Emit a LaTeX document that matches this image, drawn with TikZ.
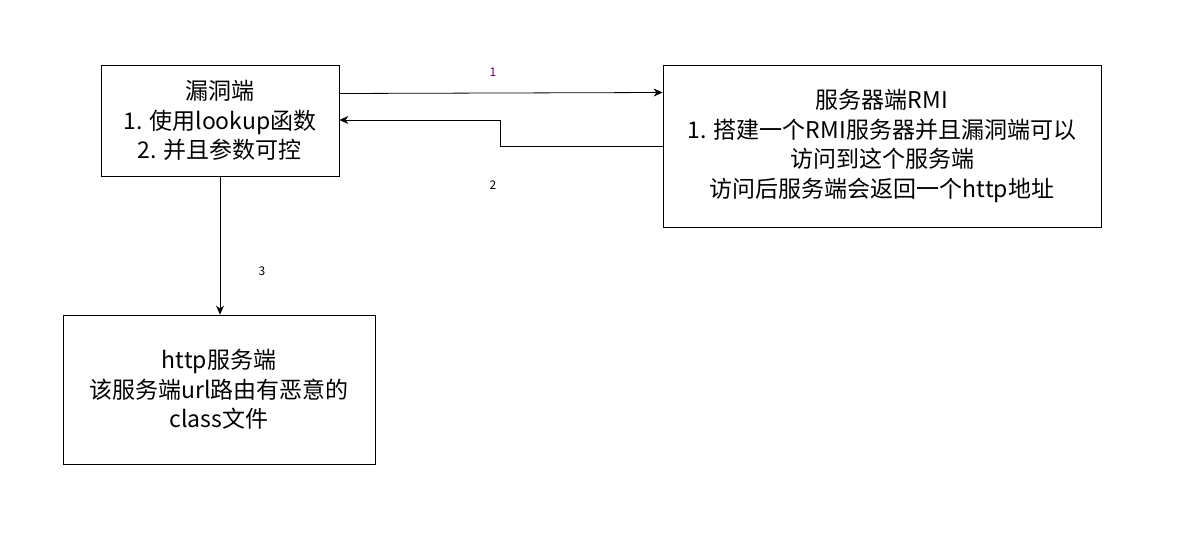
\documentclass[tikz,border=0pt]{standalone}
\usepackage{fontspec}
\setmainfont{Noto Sans CJK SC}
\usetikzlibrary{arrows.meta}
\begin{document}
\begin{tikzpicture}[x=1pt,y=-1pt,
 box/.style={draw,line width=0.8pt,align=center,inner sep=0pt,font=\fontsize{23}{29.5}\selectfont},
 con/.style={draw,line width=0.8pt,-{Stealth[length=9pt,width=8pt]}},
 lab/.style={font=\fontsize{12}{13}\selectfont}]
\useasboundingbox (0,0) rectangle (1187,554);
\node[box,minimum width=238pt,minimum height=111pt] (a) at (220,120.5) {漏洞端\\1. 使用lookup函数\\2. 并且参数可控};
\node[box,minimum width=438pt,minimum height=162pt] (b) at (882,146) {服务器端RMI\\1. 搭建一个RMI服务器并且漏洞端可以\\访问到这个服务端\\访问后服务端会返回一个http地址};
\node[box,minimum width=312pt,minimum height=149pt] (c) at (219,389.5) {http服务端\\该服务端url路由有恶意的\\class文件};
\draw[con] (a.east|-0,93.5) -- (b.west|-0,92.5);
\coordinate (k1) at (500,146);
\coordinate (k2) at (500,120);
\draw[con] (b.west|-k1) -- (k1) -- (k2) -- (a.east|-k2);
\draw[con] (a.south-|220,0) -- (c.north-|220,0);
\node[lab,text={rgb,255:red,102;green,0;blue,102}] (l1) at (493,72) {1};
\node[lab] (l2) at (493,185) {2};
\node[lab] (l3) at (262,271) {3};
\end{tikzpicture}
\end{document}
